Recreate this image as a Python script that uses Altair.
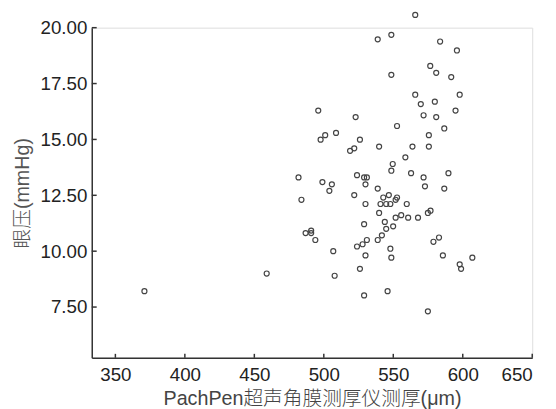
import altair as alt
import pandas as pd

# Central corneal thickness (PachPen, µm) and IOP (mmHg)
thickness = [565.8, 538.8, 548.6, 583.7, 595.8, 576.6, 580.9, 548.6, 591.7, 565.8,
             597.8, 569.8, 579.9, 496.0, 594.8, 522.9, 571.8, 580.9, 552.7, 586.7,
             508.8, 501.0, 497.7, 526.0, 575.6, 539.8, 563.8, 575.6, 521.9, 518.9,
             558.7, 549.6, 548.6, 562.8, 589.7, 481.8, 523.9, 529.0, 531.0, 571.8,
             499.0, 505.8, 530.0, 572.8, 504.0, 538.8, 586.7, 483.9, 521.9, 546.8,
             542.8, 552.7, 551.7, 530.0, 540.8, 544.9, 547.9, 559.7, 539.8, 574.9,
             576.8, 551.7, 555.7, 560.7, 567.8, 529.0, 543.9, 549.9, 544.9, 486.9,
             490.9, 490.9, 541.8, 493.9, 531.0, 538.8, 582.9, 523.9, 527.9, 578.9,
             506.8, 547.9, 530.0, 548.6, 585.7, 606.9, 597.8, 598.8, 458.9, 507.8,
             526.0, 370.9, 545.9, 529.0, 574.9]
iop = [20.57, 19.48, 19.68, 19.38, 18.98, 18.29, 17.98, 17.89, 17.79, 17.00,
       17.00, 16.58, 16.69, 16.29, 16.29, 16.00, 16.08, 16.00, 15.60, 15.49,
       15.29, 15.19, 14.99, 14.99, 15.19, 14.68, 14.68, 14.68, 14.60, 14.49,
       14.20, 13.90, 13.60, 13.49, 13.49, 13.30, 13.40, 13.30, 13.30, 13.30,
       13.09, 12.99, 12.99, 12.90, 12.70, 12.80, 12.80, 12.30, 12.51, 12.51,
       12.40, 12.40, 12.30, 12.11, 12.11, 12.11, 12.11, 12.11, 11.71, 11.71,
       11.81, 11.50, 11.61, 11.50, 11.50, 11.21, 11.31, 11.11, 11.00, 10.81,
       10.92, 10.81, 10.71, 10.50, 10.50, 10.50, 10.61, 10.21, 10.31, 10.42,
       10.00, 10.11, 9.81, 9.71, 9.81, 9.71, 9.41, 9.21, 9.00, 8.90,
       9.21, 8.21, 8.21, 8.02, 7.31]

x_ticks = [350, 400, 450, 500, 550, 600, 650]
y_ticks = [7.5, 10.0, 12.5, 15.0, 17.5, 20.0]

x_title = "PachPen超声角膜测厚仪测厚(μm)"
y_title = "眼压(mmHg)"

df = pd.DataFrame({"x": thickness, "y": iop})
xt = pd.DataFrame({"x": x_ticks})
yt = pd.DataFrame({"y": y_ticks})

W, H = 447, 335
xscale = alt.Scale(domain=[333, 650], nice=False, zero=False)
yscale = alt.Scale(domain=[5.23, 20.0], nice=False, zero=False)

font = "Liberation Sans, Arial, Noto Sans CJK SC"

xaxis = alt.Axis(values=x_ticks, format="d", title=x_title, grid=False,
                 ticks=False, tickSize=0, labelPadding=8, labelFontSize=19,
                 labelColor="#222", labelFont=font, titleFont=font,
                 titleFontSize=20, titleFontWeight=300, titleColor="#444",
                 titlePadding=4, domainColor="#333", domainWidth=1.5)
yaxis = alt.Axis(values=y_ticks, format=".2f", title=y_title, grid=False,
                 ticks=False, tickSize=0, labelPadding=5, labelFontSize=19,
                 labelColor="#222", labelFont=font, titleFont=font,
                 titleFontSize=20, titleFontWeight=300, titleColor="#555",
                 titlePadding=8, domainColor="#333", domainWidth=1.5)

points = alt.Chart(df).mark_point(shape="circle", filled=False, size=26,
                                  strokeWidth=1.2, color="#444", opacity=1).encode(
    x=alt.X("x:Q", scale=xscale, axis=xaxis),
    y=alt.Y("y:Q", scale=yscale, axis=yaxis),
)

xticks = alt.Chart(xt).mark_rule(color="#333", strokeWidth=1.5).encode(
    x=alt.X("x:Q", scale=xscale),
    y=alt.value(H),
    y2=alt.value(H - 4),
)
yticks = alt.Chart(yt).mark_rule(color="#333", strokeWidth=1.5).encode(
    y=alt.Y("y:Q", scale=yscale),
    x=alt.value(0),
    x2=alt.value(5),
)

chart = alt.layer(points, xticks, yticks).properties(
    width=W, height=H,
    autosize=alt.AutoSizeParams(type="none"),
    padding={"left": 85, "top": 17, "right": 16, "bottom": 49},
).configure_view(stroke=None).configure(background="white")

chart.save("out.html", embed_options={"renderer": "svg", "actions": False})
